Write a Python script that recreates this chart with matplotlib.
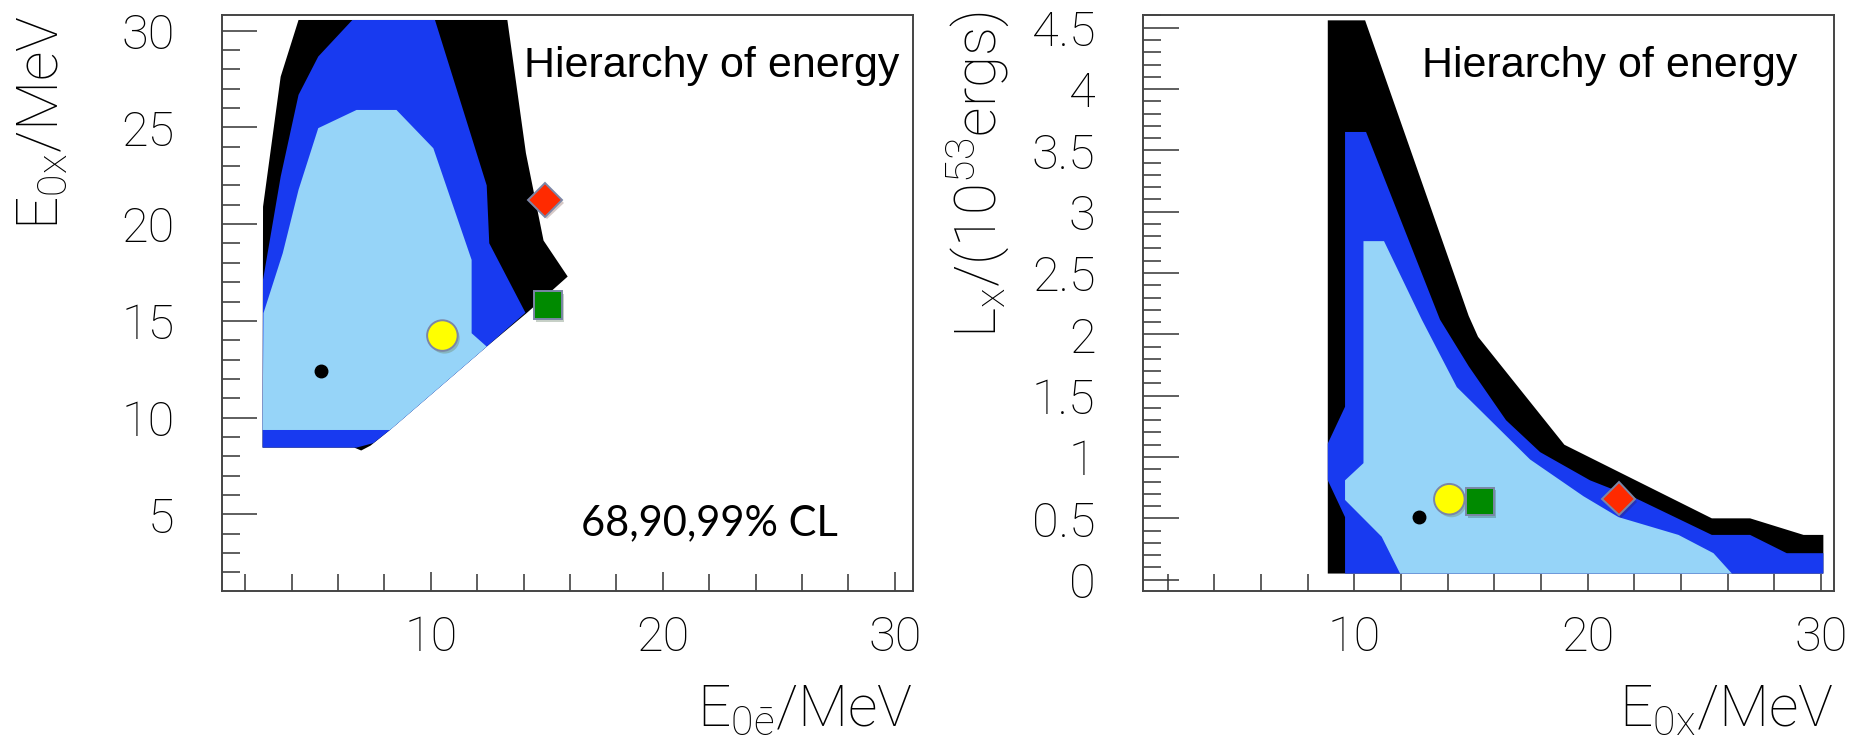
import matplotlib
matplotlib.use("Agg")
import matplotlib.pyplot as plt
import matplotlib.patheffects as pe
from matplotlib.ticker import MultipleLocator, FormatStrFormatter

plt.rcParams['font.family'] = ['Liberation Sans', 'DejaVu Sans']
plt.rcParams['mathtext.fontset'] = 'custom'
plt.rcParams['mathtext.rm'] = 'Roboto:light'

BLACK = '#000000'
BLUE = '#183af0'
LIGHT = '#96d4f8'
THIN = dict(family=['Roboto', 'Liberation Sans'], weight='light')

# ---- left panel: E0x vs E0e-bar, contours 99/90/68 %
l99_x = [2.75, 2.77, 3.53, 4.30, 13.30, 14.10, 14.86, 15.90, 14.13, 12.41, 8.24, 7.40, 7.00, 6.70, 2.75]
l99_y = [8.45, 20.90, 27.62, 30.55, 30.55, 23.67, 19.15, 17.29, 15.40, 13.67, 9.36, 8.55, 8.30, 8.45, 8.45]
l90_x = [2.75, 2.77, 3.53, 4.30, 5.15, 6.62, 10.18, 12.41, 12.52, 14.08, 12.41, 8.24, 7.52, 6.80, 2.75]
l90_y = [8.45, 17.12, 22.45, 26.68, 28.66, 30.55, 30.55, 22.00, 19.01, 15.42, 13.67, 9.36, 8.68, 8.45, 8.45]
l68_x = [2.75, 2.79, 3.62, 4.30, 5.15, 6.80, 8.52, 10.11, 11.76, 11.76, 12.41, 8.24, 2.75]
l68_y = [9.36, 15.40, 18.50, 21.77, 24.96, 25.90, 25.90, 23.92, 18.15, 14.36, 13.67, 9.36, 9.36]

# best fit and model points (E0e, E0x)
l_best = (5.25, 12.43)
l_circle = (10.50, 14.24)
l_square = (15.04, 15.82)
l_diamond = (14.92, 21.25)

# ---- right panel: Lx vs E0x
r99_x = [8.86, 8.86, 10.46, 14.90, 15.30, 19.00, 25.32, 26.96, 29.25, 30.10, 30.10]
r99_y = [0.05, 4.56, 4.56, 2.15, 1.98, 1.10, 0.50, 0.50, 0.365, 0.365, 0.05]
r90_x = [9.60, 9.60, 8.86, 8.86, 9.60, 9.60, 10.50, 13.67, 14.90, 16.50, 17.96, 20.10, 22.10, 25.32, 26.96, 28.53, 30.10, 30.10]
r90_y = [0.05, 0.51, 0.81, 1.11, 1.41, 3.65, 3.65, 2.12, 1.74, 1.30, 1.04, 0.81, 0.66, 0.365, 0.365, 0.216, 0.216, 0.05]
r68_x = [11.96, 11.17, 9.60, 9.60, 10.39, 10.39, 11.27, 12.89, 14.39, 17.53, 19.82, 21.32, 23.89, 25.39, 26.18]
r68_y = [0.05, 0.35, 0.65, 0.81, 0.95, 2.76, 2.76, 2.12, 1.57, 0.98, 0.68, 0.51, 0.365, 0.216, 0.05]

r_best = (12.79, 0.51)
r_circle = (14.07, 0.656)
r_square = (15.39, 0.637)
r_diamond = (21.32, 0.66)

fig = plt.figure(figsize=(18.7, 7.4), dpi=100)
axL = fig.add_axes([0.1187, 0.2014, 0.3695, 0.7784])
axR = fig.add_axes([0.6111, 0.2014, 0.3697, 0.7784])

shadow = [pe.SimplePatchShadow(offset=(1.5, -2), alpha=0.22), pe.Normal()]


def draw_contours(ax, c99, c90, c68):
    ax.fill(c99[0], c99[1], color=BLACK, lw=0)
    ax.fill(c90[0], c90[1], color=BLUE, lw=0)
    ax.fill(c68[0], c68[1], color=LIGHT, lw=0)


def draw_points(ax, best, circ, sq, dia):
    edge = '#7b86a6'
    ax.plot(*best, 'o', color='black', ms=9, zorder=5)
    ax.plot(*circ, 'o', color='#ffff00', mec=edge, mew=1.4, ms=22,
            zorder=5, path_effects=shadow)
    ax.plot(*sq, 's', color='#008a00', mec=edge, mew=1.4, ms=20,
            zorder=5, path_effects=shadow)
    ax.plot(*dia, 'D', color='#ff2a00', mec=edge, mew=1.4, ms=17,
            zorder=5, path_effects=shadow)


def style_axis(ax, ymaj, ymin_, ylen, xlen):
    for s in ax.spines.values():
        s.set_color('#444444')
        s.set_linewidth(1.4)
    ax.xaxis.set_major_locator(MultipleLocator(10))
    ax.xaxis.set_minor_locator(MultipleLocator(2))
    ax.yaxis.set_major_locator(MultipleLocator(ymaj))
    ax.yaxis.set_minor_locator(MultipleLocator(ymin_))
    ax.tick_params(axis='both', which='both', direction='in', color='#333333',
                   width=1.1, labelsize=35)
    ax.tick_params(axis='y', which='major', length=ylen[0], pad=34)
    ax.tick_params(axis='y', which='minor', length=ylen[1])
    ax.tick_params(axis='x', which='major', length=xlen[0], pad=17)
    ax.tick_params(axis='x', which='minor', length=xlen[1])
    for lab in ax.get_xticklabels() + ax.get_yticklabels():
        lab.set_fontfamily(THIN['family'])
        lab.set_fontweight(THIN['weight'])


draw_contours(axL, (l99_x, l99_y), (l90_x, l90_y), (l68_x, l68_y))
draw_points(axL, l_best, l_circle, l_square, l_diamond)
axL.set_xlim(1.0, 30.78)
axL.set_ylim(1.04, 30.81)
style_axis(axL, 5, 1, (25, 13), (14, 12))

draw_contours(axR, (r99_x, r99_y), (r90_x, r90_y), (r68_x, r68_y))
draw_points(axR, r_best, r_circle, r_square, r_diamond)
axR.set_xlim(0.93, 30.56)
axR.set_ylim(-0.092, 4.604)
axR.yaxis.set_major_formatter(FormatStrFormatter('%g'))
style_axis(axR, 0.5, 0.1, (26, 13), (12, 12))

# titles and labels
fig.text(0.2802, 0.8955, 'Hierarchy of energy', fontsize=31, va='baseline')
fig.text(0.7603, 0.8955, 'Hierarchy of energy', fontsize=31, va='baseline')
fig.text(0.3107, 0.277, '68,90,99% CL', fontsize=30, va='baseline',
         family=['Lato', 'DejaVu Sans'])

fig.text(0.0225, 0.98, r'$\mathregular{E_{0x}/MeV}$', fontsize=42,
         rotation=90, ha='center', va='top', **THIN)
fig.text(0.523, 0.985, r'$\mathregular{L_x/(10^{53}ergs)}$', fontsize=42,
         rotation=90, ha='center', va='top', **THIN)
fig.text(0.4882, 0.019, r'$\mathregular{E_{0\bar{e}}/MeV}$', fontsize=42,
         ha='right', va='baseline', **THIN)
fig.text(0.9807, 0.019, r'$\mathregular{E_{0x}/MeV}$', fontsize=42,
         ha='right', va='baseline', **THIN)

fig.savefig('out.png', dpi=100)
